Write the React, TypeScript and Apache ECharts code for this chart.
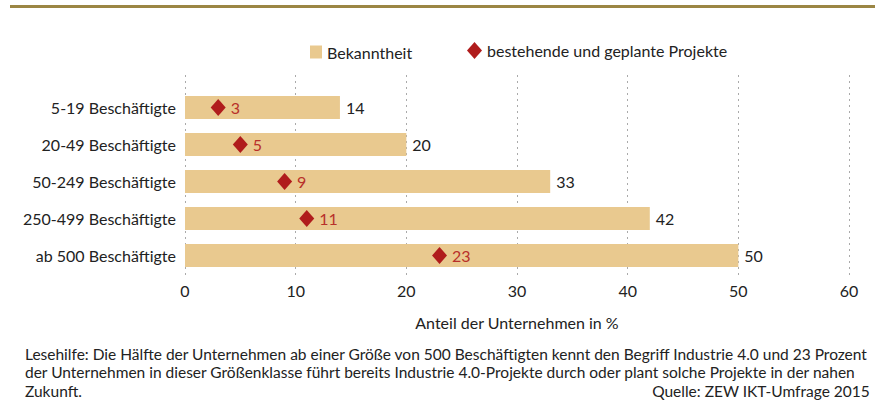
import React, { useEffect, useRef } from "react";
import * as echarts from "echarts";

const categories = [
  "5-19 Beschäftigte",
  "20-49 Beschäftigte",
  "50-249 Beschäftigte",
  "250-499 Beschäftigte",
  "ab 500 Beschäftigte",
];
const bekanntheit = [14, 20, 33, 42, 50];
const projekte = [3, 5, 9, 11, 23];
const xTicks = [0, 10, 20, 30, 40, 50, 60];

const FONT = "Lato";
const FS = 16;
const BAR_COLOR = "#e9c98f";
const DIAMOND_COLOR = "#b01c1c";
const NOTE_FONT = `15.5px ${FONT}`;

export default function App() {
  const ref = useRef<HTMLDivElement>(null);
  useEffect(() => {
    if (!ref.current) return;
    const chart = echarts.init(ref.current, undefined, { renderer: "svg" });
    chart.setOption({
      animation: false,
      textStyle: { fontFamily: FONT },
      legend: [
        {
          left: 305,
          top: 39,
          itemWidth: 12,
          itemHeight: 13,
          textStyle: { fontFamily: FONT, fontSize: FS, color: "#222" },
          data: [{ name: "Bekanntheit", icon: "rect" }],
        },
        {
          left: 462,
          top: 37,
          itemWidth: 15,
          itemHeight: 17,
          itemGap: 4,
          textStyle: { fontFamily: FONT, fontSize: FS, color: "#222" },
          data: [{ name: "bestehende und geplante Projekte", icon: "diamond" }],
        },
      ],
      grid: [
        { left: 185, right: 26, top: 75, height: 201 },
        { left: 185, right: 26, top: 89, height: 185 },
      ],
      xAxis: [
        {
          gridIndex: 0,
          type: "value",
          min: xTicks[0],
          max: xTicks[xTicks.length - 1],
          interval: 10,
          axisLine: { show: false },
          axisTick: { show: false },
          splitLine: { show: true, lineStyle: { color: "#aaa", type: [2, 4], width: 1 } },
          axisLabel: { fontFamily: FONT, fontSize: FS, color: "#222", margin: 6 },
          name: "Anteil der Unternehmen in %",
          nameLocation: "middle",
          nameGap: 38,
          nameTextStyle: { fontFamily: FONT, fontSize: FS, color: "#222" },
        },
        {
          gridIndex: 1,
          type: "value",
          min: xTicks[0],
          max: xTicks[xTicks.length - 1],
          interval: 10,
          show: false,
        },
      ],
      yAxis: [
        { gridIndex: 0, type: "value", show: false },
        {
          gridIndex: 1,
          type: "category",
          data: categories,
          inverse: true,
          axisLine: { show: false },
          axisTick: { show: false },
          axisLabel: { fontFamily: FONT, fontSize: FS, color: "#222", margin: 9 },
        },
      ],
      series: [
        {
          name: "Bekanntheit",
          type: "bar",
          xAxisIndex: 1,
          yAxisIndex: 1,
          data: bekanntheit,
          barCategoryGap: "38%",
          itemStyle: { color: BAR_COLOR },
          label: {
            show: true,
            position: "right",
            distance: 6,
            fontFamily: FONT,
            fontSize: FS,
            color: "#222",
          },
        },
        {
          name: "bestehende und geplante Projekte",
          type: "scatter",
          xAxisIndex: 1,
          yAxisIndex: 1,
          data: projekte,
          symbol: "diamond",
          symbolSize: [15, 17],
          itemStyle: { color: DIAMOND_COLOR, opacity: 1 },
          label: {
            show: true,
            position: "right",
            distance: 5,
            fontFamily: FONT,
            fontSize: FS,
            color: "#b8302a",
          },
        },
      ],
      graphic: [
        {
          type: "rect",
          shape: { x: 10, y: 5, width: 865, height: 3 },
          style: { fill: "#9b8644" },
        },
        {
          type: "text",
          left: 25,
          top: 346,
          style: {
            text: "Lesehilfe: Die Hälfte der Unternehmen ab einer Größe von 500 Beschäftigten kennt den Begriff Industrie 4.0 und 23 Prozent",
            font: NOTE_FONT,
            fill: "#222",
          },
        },
        {
          type: "text",
          left: 25,
          top: 364,
          style: {
            text: "der Unternehmen in dieser Größenklasse führt bereits Industrie 4.0-Projekte durch oder plant solche Projekte in der nahen",
            font: NOTE_FONT,
            fill: "#222",
          },
        },
        {
          type: "text",
          left: 25,
          top: 383,
          style: { text: "Zukunft.", font: NOTE_FONT, fill: "#222" },
        },
        {
          type: "text",
          right: 5,
          top: 383,
          style: { text: "Quelle: ZEW IKT-Umfrage 2015", font: NOTE_FONT, fill: "#222" },
        },
      ],
    });
    return () => chart.dispose();
  }, []);
  return <div ref={ref} style={{ width: 875, height: 405, position: "absolute", left: 0, top: 0 }} />;
}
